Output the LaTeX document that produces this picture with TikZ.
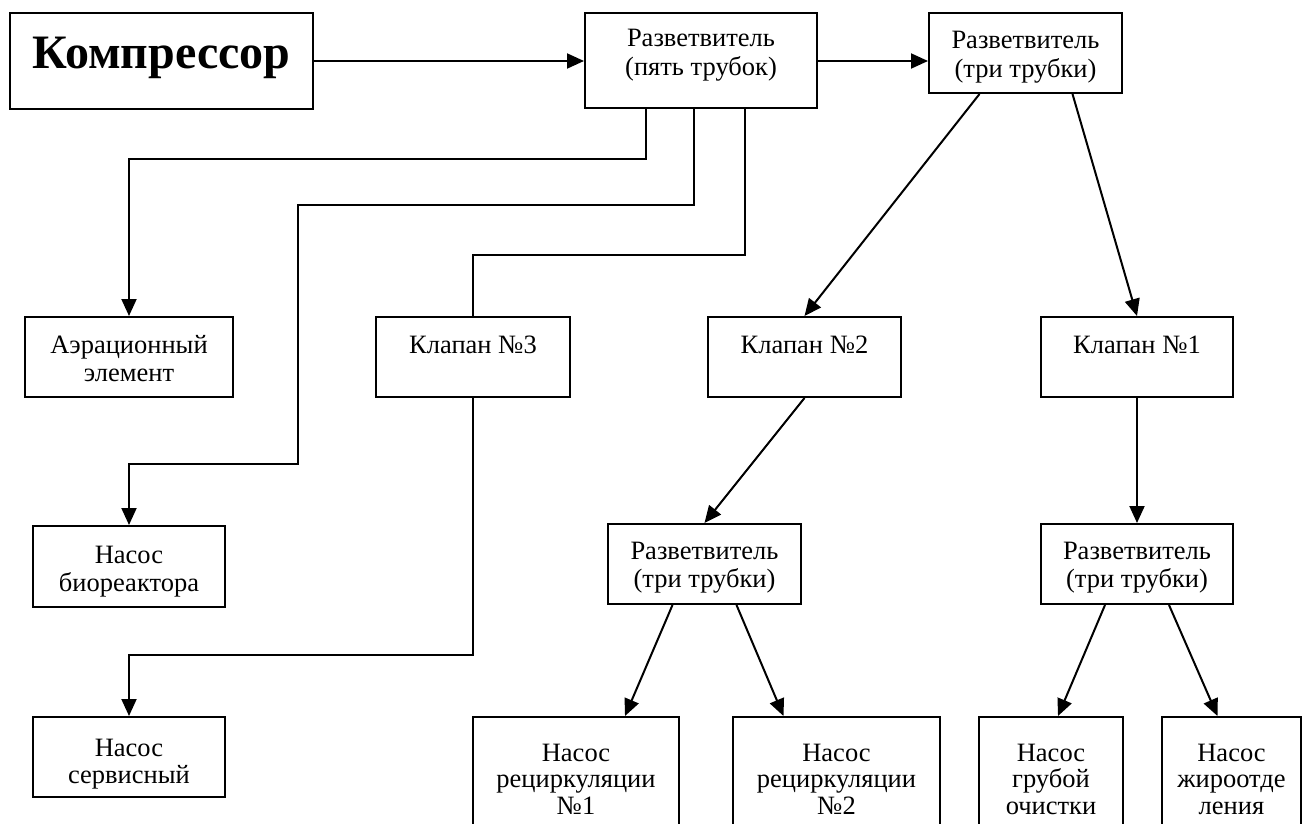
\documentclass[tikz,border=0pt]{standalone}
\usepackage{fontspec}
\setmainfont{Liberation Serif}
\usetikzlibrary{arrows.meta}

\begin{document}
\begin{tikzpicture}[x=1pt,y=-1pt,>={Triangle[length=17pt,width=15pt]},
   line width=2pt,
   box/.style 2 args={draw,rectangle,align=center,inner sep=0pt,anchor=north,
      minimum width=#1,text height=64.5pt,text depth=#2,
      font=\fontsize{26.5}{28.5}\selectfont},
   low/.style={text height=97pt,text depth=38pt,
      font=\fontsize{26.5}{26.5}\selectfont}]
   \useasboundingbox (0,0) rectangle (1311,824);
   \clip (0,0) rectangle (1311,824);

   \node[box={303}{40pt},text height=56pt,font=\fontsize{48}{52}\selectfont\bfseries]
                            (komp)  at (161.5,12)  {Компрессор};
   \node[box={232}{32.5pt},text height=62.5pt]
                            (razv5) at (701,12)    {Разветвитель\\(пять трубок)};
   \node[box={193}{15.5pt}] (razv3) at (1025.5,12) {Разветвитель\\(три трубки)};
   \node[box={208}{15.5pt}] (aer)   at (129,316)   {Аэрационный\\элемент};
   \node[box={192}{15.5pt},text height=65.5pt]
                            (bio)   at (129,525)   {Насос\\биореактора};
   \node[box={192}{14pt},text height=66pt,font=\fontsize{26.5}{27}\selectfont]
                            (serv)  at (129,716)   {Насос\\сервисный};
   \node[box={194}{44pt},text height=36pt] (kl3) at (473,316)   {Клапан №3};
   \node[box={193}{44pt},text height=36pt] (kl2) at (804.5,316) {Клапан №2};
   \node[box={192}{44pt},text height=36pt] (kl1) at (1137,316)  {Клапан №1};
   \node[box={193}{16.5pt},text height=63.5pt]
                            (razvm) at (704.5,523) {Разветвитель\\(три трубки)};
   \node[box={192}{16.5pt},text height=63.5pt]
                            (razvr) at (1137,523)  {Разветвитель\\(три трубки)};
   \node[box={206}{}, low]  (rec1)  at (576,716)    {Насос\\рециркуляции\\№1};
   \node[box={207}{}, low]  (rec2)  at (836.5,716)  {Насос\\рециркуляции\\№2};
   \node[box={144}{}, low]  (grub)  at (1051,716)   {Насос\\грубой\\очистки};
   \node[box={139}{}, low]  (zhir)  at (1231.5,716) {Насос\\жироотде\\ления};

   % top line
   \draw[->] (komp.east) -- (komp.east -| razv5.west);
   \draw[->] (komp.east -| razv5.east) -- (komp.east -| razv3.west);

   % five-tube splitter
   \draw[->] ([xshift=-55pt]razv5.south) -- ++(0,50) -| (aer.north);
   \draw[->] ([xshift=-7pt]razv5.south) -- ++(0,96) -- ++(-396,0)
                                        -- ++(0,259) -| (bio.north);
   \draw     ([xshift=44pt]razv5.south) -- ++(0,146) -| (kl3.north);
   \draw[->] (kl3.south) -- ++(0,257) -| (serv.north);

   % three-tube splitters
   \path[->] ([xshift=-46pt]razv3.south) edge (kl2.north)
             ([xshift=47pt]razv3.south)  edge (kl1.north)
             (kl2.south) edge (razvm.north)
             (kl1.south) edge (razvr.north)
             ([xshift=-32pt]razvm.south) edge ([xshift=49pt]rec1.north)
             ([xshift=32pt]razvm.south)  edge ([xshift=-53pt]rec2.north)
             ([xshift=-32pt]razvr.south) edge ([xshift=7pt]grub.north)
             ([xshift=32pt]razvr.south)  edge ([xshift=-14pt]zhir.north);
\end{tikzpicture}
\end{document}
